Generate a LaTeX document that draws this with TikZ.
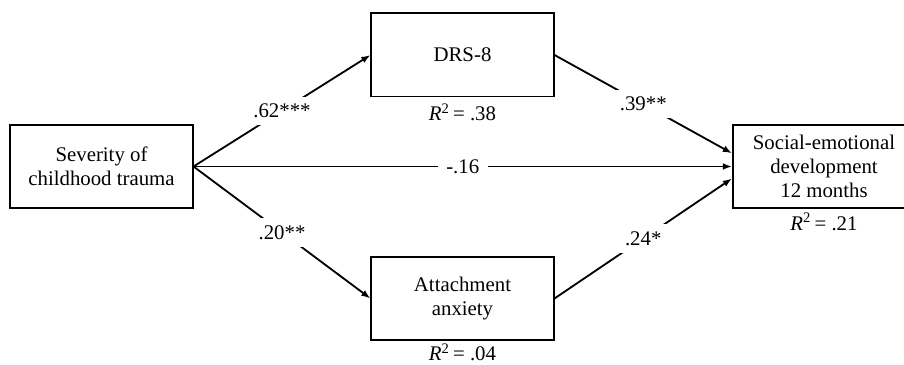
\documentclass[tikz,border=0pt]{standalone}
\usepackage{fontspec}
\setmainfont{Liberation Serif}
\usetikzlibrary{arrows.meta,positioning}
\tikzset{
  % observed variable box
  var/.style  = {rectangle, draw, line width=1.4pt, minimum width=45.5mm,
                 minimum height=20.75mm, align=center, inner sep=2pt},
  path/.style = {-{Latex[length=2.3mm,width=1.7mm]}, line width=1.3pt},
  coef/.style = {midway, fill=white, inner sep=5pt},
  rsq/.style  = {inner sep=1pt},
}

\begin{document}
\begin{tikzpicture}[x=0.025cm, y=-0.025cm, font=\fontsize{14.8}{17.2}\selectfont]
\useasboundingbox (0,0) rectangle (904,365);
\node[var] (trauma) at (101.5,166.5) {Severity of\\childhood trauma};
\node[var] (drs)    at (462.5,55)    {DRS-8};
\node[var] (anx)    at (462.5,298.5) {Attachment\\anxiety};
\node[var] (dev)    at (824,166.5)   {Social-emotional\\development\\12 months};
% explained variance
\node[rsq, below=1.2mm of drs] {\textit{R}\textsuperscript{2}\,= .38};
\node[rsq, below=0.3mm of anx] {\textit{R}\textsuperscript{2}\,= .04};
\node[rsq, below=0.6mm of dev] {\textit{R}\textsuperscript{2}\,= .21};
% arrow ends on the outcome box
\coordinate (dev top) at ([yshift=3.3mm]dev.west);
\coordinate (dev bot) at ([yshift=-3mm]dev.west);
\draw[path] (trauma.east) -- node[coef] {.62***} (drs.west);
\draw[path] (trauma.east) -- node[coef] {.20**} (anx.west);
\draw[path] (trauma.east) -- node[coef, inner sep=6pt] {-.16} (dev.west);
\draw[path] (drs.east) -- node[coef] {.39**} (dev top);
\draw[path] (anx.east) -- node[coef] {.24*} (dev bot);
\end{tikzpicture}
\end{document}
